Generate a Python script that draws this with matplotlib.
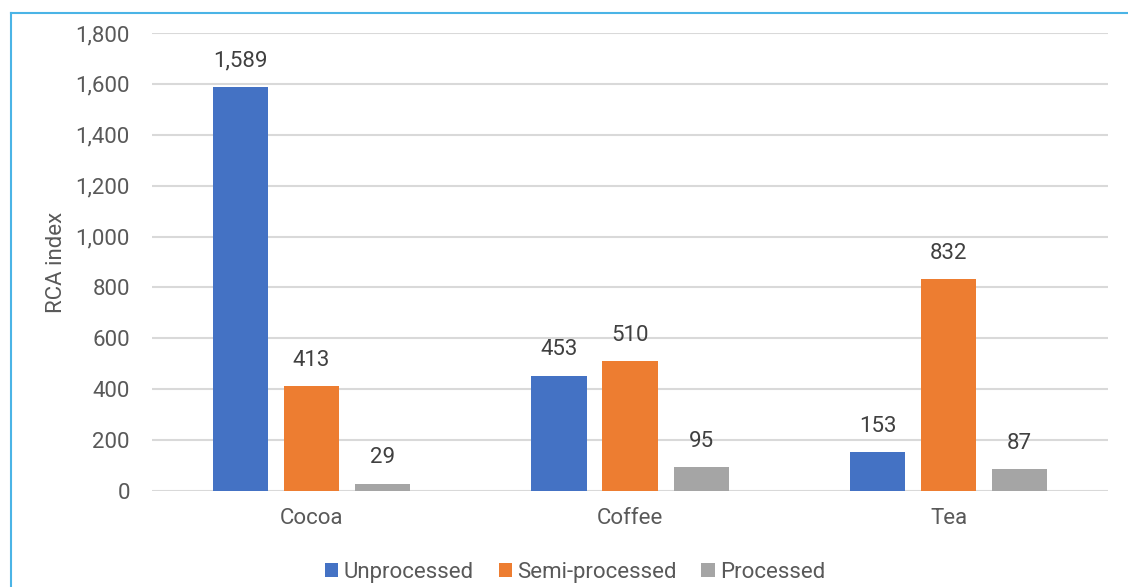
import matplotlib.pyplot as plt
import numpy as np
from matplotlib.lines import Line2D

categories = ["Cocoa", "Coffee", "Tea"]
unprocessed = [1589, 453, 153]
semi_processed = [413, 510, 832]
processed = [29, 95, 87]
series_names = ["Unprocessed", "Semi-processed", "Processed"]
colors = ["#4472C4", "#ED7D31", "#A5A5A5"]

plt.rcParams['font.family'] = ['Roboto', 'DejaVu Sans']
txt = '#595959'
fs = 16

fig = plt.figure(figsize=(11.28, 5.87), dpi=100)
ax = fig.add_axes([0.1348, 0.1635, 0.8475, 0.7803])

x = np.arange(len(categories))
w = 0.173
step = 0.223
for i, (vals, name, c) in enumerate(zip([unprocessed, semi_processed, processed], series_names, colors)):
    pos = x + (i - 1) * step
    ax.bar(pos, vals, width=w, color=c, label=name, zorder=3)
    for p, v in zip(pos, vals):
        ax.text(p, v + 60, f"{v:,}", ha='center', va='bottom', fontsize=fs, color='#404040')

ax.set_xlim(-0.5, 2.5)
ax.set_ylim(0, 1800)
ax.set_yticks(np.arange(0, 1801, 200))
ax.yaxis.set_major_formatter(plt.FuncFormatter(lambda v, p: f"{int(v):,}"))
ax.set_xticks(x)
ax.set_xticklabels(categories)
ax.grid(axis='y', color='#d9d9d9', linewidth=1.5, zorder=0)
for s in ax.spines.values():
    s.set_visible(False)
ax.tick_params(length=0, labelsize=fs, colors=txt)
ax.tick_params(axis='y', pad=16)
ax.tick_params(axis='x', pad=12)
ax.set_ylabel("RCA index", fontsize=fs, color=txt)
ax.yaxis.set_label_coords(-0.089, 0.5)

fig.legend(*ax.get_legend_handles_labels(), loc='center', bbox_to_anchor=(0.51, 0.025), ncol=3,
           frameon=False, fontsize=fs, labelcolor=txt, handlelength=0.6, handleheight=0.6,
           handletextpad=0.25, columnspacing=1.1)

# frame around the chart (left and top edges)
fig.add_artist(Line2D([11 / 1128, 11 / 1128], [0, 1 - 13 / 587], color='#4BB4E6', lw=1.5))
fig.add_artist(Line2D([11 / 1128, 1], [1 - 13 / 587, 1 - 13 / 587], color='#4BB4E6', lw=1.5))

fig.savefig("out.png", dpi=100)
